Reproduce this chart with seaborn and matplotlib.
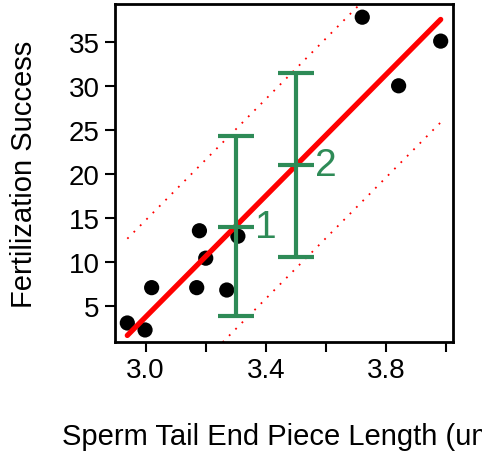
import numpy as np
import pandas as pd
import matplotlib
matplotlib.use("Agg")
import matplotlib.pyplot as plt
import seaborn as sns

# data
tail_length = [2.939, 2.998, 3.020, 3.170, 3.179, 3.200, 3.270, 3.307, 3.721, 3.842, 3.982]
fert_success = [3.03, 2.24, 7.05, 7.05, 13.52, 10.40, 6.78, 12.90, 37.80, 30.00, 35.08]
pred_upper_offset = 11.0
pred_lower_offset = 11.7
est_x = [3.3, 3.5]
est_mid = [13.98, 20.95]
est_low = [3.80, 10.57]
est_high = [24.30, 31.44]
est_labels = ["1", "2"]
x_ticks = [3.0, 3.4, 3.8]
y_ticks = [5, 10, 15, 20, 25, 30, 35]

sns.set_theme(style="white")
plt.rcParams['font.family'] = ['Liberation Sans', 'DejaVu Sans']

df = pd.DataFrame({"x": tail_length, "y": fert_success})

fig = plt.figure(figsize=(4.82, 4.56), dpi=100)
ax = fig.add_axes([115/482, 1-343/456, (453-115)/482, (343-5)/456])

green = "#2E8B57"

sns.regplot(data=df, x="x", y="y", ax=ax, ci=None, truncate=True,
            scatter_kws=dict(s=120, color="black", edgecolor="none", alpha=1, zorder=3),
            line_kws=dict(color="#FF0000", lw=3.8, solid_capstyle="round", zorder=4))

# prediction band (parallel dotted lines)
slope, intercept = np.polyfit(df["x"], df["y"], 1)
xs = np.array([min(tail_length), max(tail_length)])
fit = intercept + slope * xs
ax.plot(xs, fit + pred_upper_offset, color="#FF0000", lw=1.3, ls=(0, (1, 4)), zorder=2)
ax.plot(xs, fit - pred_lower_offset, color="#FF0000", lw=1.3, ls=(0, (1, 4)), zorder=2)

# estimate error bars
mid = np.array(est_mid)
yerr = np.vstack([mid - np.array(est_low), np.array(est_high) - mid])
ax.errorbar(est_x, est_mid, yerr=yerr, fmt="none", ecolor=green, elinewidth=3,
            capsize=13, capthick=3, zorder=5)
ax.errorbar(est_x, est_mid, xerr=0.06, fmt="none", ecolor=green, elinewidth=3,
            capsize=0, zorder=5)
for xi, yi, lab in zip(est_x, est_mid, est_labels):
    ax.annotate(lab, (xi, yi), xytext=(14, 0), textcoords="offset points",
                color=green, fontsize=28, va="center", ha="left", zorder=6)

ax.set_xlim(2.898, 4.023)
ax.set_ylim(0.87, 39.3)
ax.set_xticks([3.0, 3.2, 3.4, 3.6, 3.8, 4.0])
ax.set_xticklabels(["3.0", "", "3.4", "", "3.8", ""])
ax.set_yticks(y_ticks)
ax.set_yticklabels([str(v) for v in y_ticks])
ax.tick_params(axis="both", direction="out", length=7, width=1.5, color="black",
               labelsize=20, labelcolor="black", bottom=True, left=True, pad=4)
for sp in ax.spines.values():
    sp.set_linewidth(2)
    sp.set_color("black")

ax.set_xlabel("Sperm Tail End Piece Length (um)", fontsize=21, color="black", labelpad=28)
ax.set_ylabel("Fertilization Success", fontsize=21, color="black", labelpad=22)

fig.savefig("out.png", dpi=100)
